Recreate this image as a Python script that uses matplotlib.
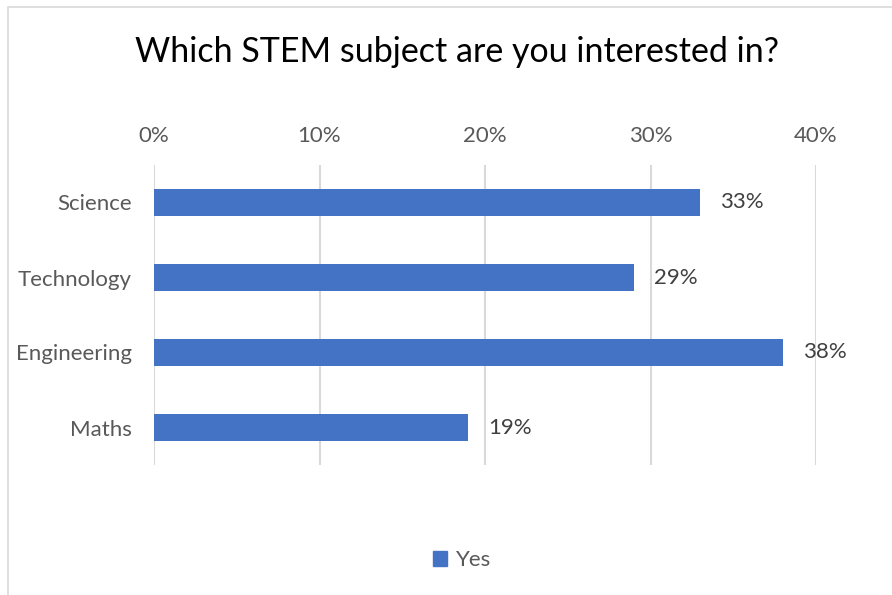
import matplotlib.pyplot as plt
from matplotlib.patches import Rectangle, Patch

subjects = ["Science", "Technology", "Engineering", "Maths"]
yes_share = [0.33, 0.29, 0.38, 0.19]
tick_values = [0.0, 0.1, 0.2, 0.3, 0.4]

BLUE = "#4472C4"
GRID = "#D9D9D9"
TEXT = "#595959"

plt.rcParams["font.family"] = ["Lato", "DejaVu Sans"]

fig = plt.figure(figsize=(8.92, 5.95), dpi=100)

# chart border
fig.patches.append(Rectangle((8 / 892, -0.05), 1.1, 1 - 7 / 595 + 0.05,
                             transform=fig.transFigure, fill=False,
                             edgecolor=GRID, linewidth=1.2))

ax = fig.add_axes([154 / 892, 1 - 465 / 595, 662 / 892, 300 / 595])
pos = range(len(subjects))
bars = ax.barh(pos, yes_share, height=0.35, color=BLUE, label="Yes", zorder=3)

ax.set_xlim(0, 0.4)
ax.set_ylim(3.5, -0.5)
ax.set_yticks(list(pos))
ax.set_yticklabels(subjects, fontsize=16, color=TEXT)
ax.set_xticks(tick_values)
ax.set_xticklabels([f"{v:.0%}" for v in tick_values], fontsize=16, color=TEXT)
ax.xaxis.tick_top()
ax.tick_params(axis="both", length=0)
ax.tick_params(axis="x", pad=14)
ax.tick_params(axis="y", pad=16)
ax.grid(axis="x", color=GRID, linewidth=1.5, zorder=0)
for s in ax.spines.values():
    s.set_visible(False)

for b, v in zip(bars, yes_share):
    ax.text(b.get_width() + 0.012, b.get_y() + b.get_height() / 2, f"{v:.0%}",
            va="center", ha="left", fontsize=16, color="#404040")

fig.text(0.512, 1 - 52 / 595, "Which STEM subject are you interested in?",
         ha="center", va="center", fontsize=24.5, color="black")

fig.legend(handles=[Patch(color=BLUE, label="Yes")], loc="center",
           bbox_to_anchor=(0.518, 1 - 560 / 595), frameon=False, fontsize=16,
           handlelength=0.65, handleheight=0.65, handletextpad=0.4,
           labelcolor=TEXT)

fig.savefig("out.png", dpi=100)
